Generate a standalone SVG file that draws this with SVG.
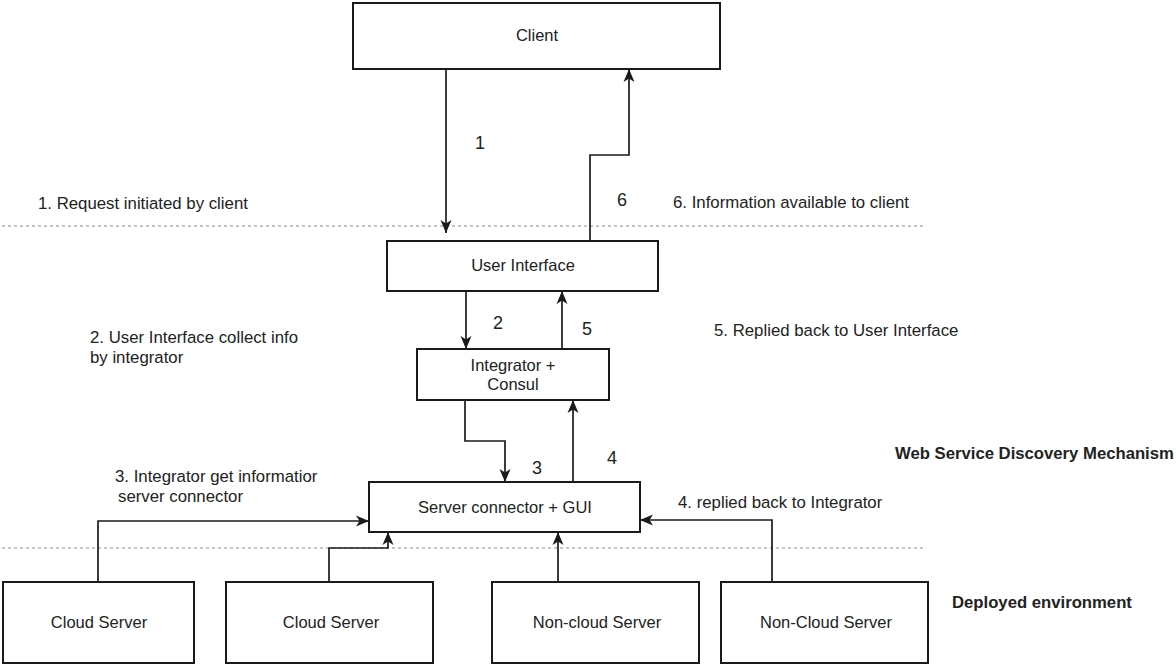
<svg xmlns="http://www.w3.org/2000/svg" width="1176" height="665" viewBox="0 0 1176 665">
  <style>
    .box { fill: #ffffff; stroke: #1a1a1a; stroke-width: 2; }
    .lbl { font-family: "Liberation Sans", Arial, sans-serif; font-size: 16.5px; fill: #222222; }
    .mid { text-anchor: middle; dominant-baseline: central; }
    .num { font-family: "Liberation Sans", Arial, sans-serif; font-size: 18px; fill: #222222; text-anchor: middle; dominant-baseline: central; }
    .bold { font-family: "Liberation Sans", Arial, sans-serif; font-size: 16.7px; font-weight: bold; fill: #222222; dominant-baseline: central; }
    .note { font-family: "Liberation Sans", Arial, sans-serif; font-size: 16.8px; fill: #222222; dominant-baseline: central; }
    .wire { fill: none; stroke: #1a1a1a; stroke-width: 1.7; marker-end: url(#arrow); }
    .sep { fill: none; stroke: #8a8a8a; stroke-width: 1.2; stroke-dasharray: 3 3; }
  </style>
  <defs>
    <marker id="arrow" markerUnits="userSpaceOnUse" markerWidth="14" markerHeight="14" viewBox="0 0 14 14" refX="13" refY="7" orient="auto">
      <path d="M0,1.5 L13,7 L0,12.5 L3.5,7 Z" fill="#1a1a1a"/>
    </marker>
  </defs>

  <rect width="1176" height="665" fill="#ffffff"/>

  <!-- layer separators -->
  <g id="separators">
    <line class="sep" x1="2" y1="226" x2="924" y2="226"/>
    <line class="sep" x1="2" y1="548" x2="924" y2="548"/>
  </g>

  <!-- connectors -->
  <g id="connectors">
    <path class="wire" d="M446,69 L446,233"/>
    <path class="wire" d="M590,241 L590,155 L629,155 L629,69"/>
    <path class="wire" d="M466,291 L466,349"/>
    <path class="wire" d="M562,349 L562,291"/>
    <path class="wire" d="M465,400 L465,441 L505,441 L505,482"/>
    <path class="wire" d="M573,482 L573,400"/>
    <path class="wire" d="M98,582 L98,521 L369,521"/>
    <path class="wire" d="M329,582 L329,548 L388,548 L388,532"/>
    <path class="wire" d="M558,582 L558,532"/>
    <path class="wire" d="M772,582 L772,520 L640,520"/>
  </g>

  <!-- nodes -->
  <g id="client">
    <rect class="box" x="353" y="3" width="367" height="66"/>
    <text class="lbl mid" x="537" y="35">Client</text>
  </g>
  <g id="user-interface">
    <rect class="box" x="387" y="241" width="271" height="50"/>
    <text class="lbl mid" x="523" y="265">User Interface</text>
  </g>
  <g id="integrator">
    <rect class="box" x="417" y="349" width="192" height="51"/>
    <text class="lbl mid" x="513" y="365">Integrator +</text>
    <text class="lbl mid" x="513" y="384">Consul</text>
  </g>
  <g id="server-connector">
    <rect class="box" x="369" y="482" width="271" height="50"/>
    <text class="lbl mid" x="505" y="507">Server connector + GUI</text>
  </g>
  <g id="cloud-server-1">
    <rect class="box" x="3" y="582" width="191" height="81"/>
    <text class="lbl mid" x="99" y="622">Cloud Server</text>
  </g>
  <g id="cloud-server-2">
    <rect class="box" x="226" y="582" width="207" height="81"/>
    <text class="lbl mid" x="331" y="622">Cloud Server</text>
  </g>
  <g id="non-cloud-server-1">
    <rect class="box" x="492" y="582" width="207" height="81"/>
    <text class="lbl mid" x="597" y="622">Non-cloud Server</text>
  </g>
  <g id="non-cloud-server-2">
    <rect class="box" x="721" y="582" width="207" height="81"/>
    <text class="lbl mid" x="826" y="622">Non-Cloud Server</text>
  </g>

  <!-- step numbers -->
  <g id="step-numbers">
    <text class="num" x="480" y="143">1</text>
    <text class="num" x="622" y="200">6</text>
    <text class="num" x="498" y="323">2</text>
    <text class="num" x="587" y="329">5</text>
    <text class="num" x="537" y="468">3</text>
    <text class="num" x="612" y="458">4</text>
  </g>

  <!-- step descriptions -->
  <g id="step-notes">
    <text class="note" x="38" y="203">1. Request initiated by client</text>
    <text class="note" x="673" y="202">6. Information available to client</text>
    <text class="note" x="90" y="337">2. User Interface collect info</text>
    <text class="note" x="90" y="357">by integrator</text>
    <text class="note" x="714" y="330">5. Replied back to User Interface</text>
    <text class="note" x="115" y="476">3. Integrator get informatior</text>
    <text class="note" x="118" y="496">server connector</text>
    <text class="note" x="678" y="502">4. replied back to Integrator</text>
  </g>

  <!-- layer titles -->
  <g id="layer-titles">
    <text class="bold" x="895" y="453">Web Service Discovery Mechanism</text>
    <text class="bold" x="952" y="602">Deployed environment</text>
  </g>
</svg>
